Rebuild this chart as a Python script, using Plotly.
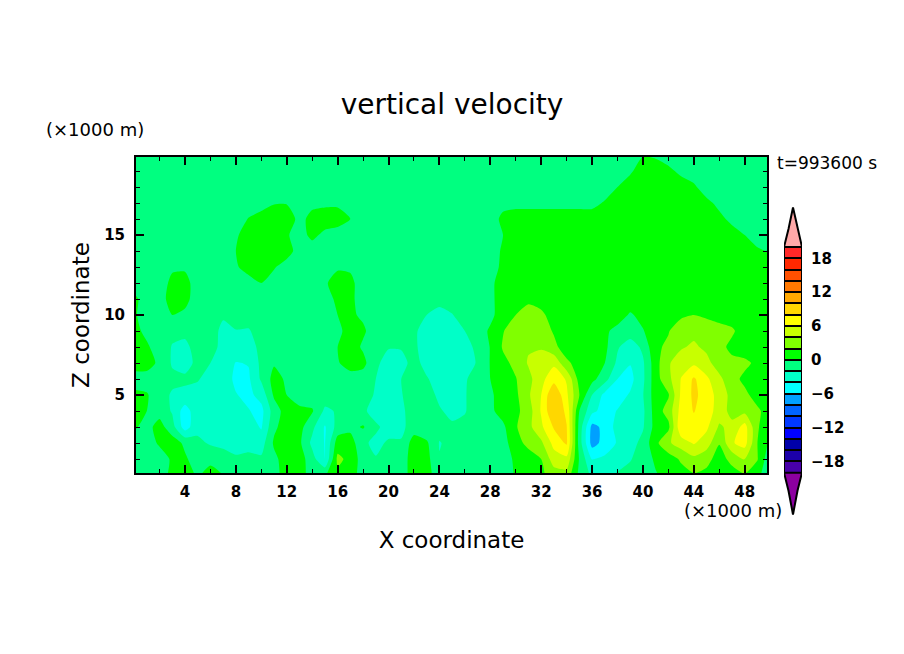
import numpy as np
import plotly.graph_objects as go

# x nodes (x1000 m), one per kilometre
x_km = list(range(0, 51))
z_km = list(range(20, -1, -1))

# vertical velocity, top row first (z = 20 ... 0)
w_z20 = [-1,-1,-1,-1,-1,-1,-1,-1,-1,-1, -1,-1,-1,-1,-1,-1,-1,-1,-1,-1, -1,-1,-1,-1,-1,-1,-1,-1,-1,-1, -1,-1,-1,-1,-1,-1,-1,-1,-1,-1, -0.1,-0.3,-1,-1,-1,-1,-1,-1,-1,-1, -1]
w_z19 = [-1,-1,-1,-1,-1,-1,-1,-1,-1,-1, -1,-1,-1,-1,-1,-1,-1,-1,-1,-1, -1,-1,-1,-1,-1,-1,-1,-1,-1,-1, -1,-1,-1,-1,-1,-1,-1,-1,-1,-0.3, 1,1,0.5,-0.5,-1,-1,-1,-1,-1,-1, -1]
w_z18 = [-1,-1,-1,-1,-1,-1,-1,-1,-1,-1, -1,-1,-1,-1,-1,-1,-1,-1,-1,-1, -1,-1,-1,-1,-1,-1,-1,-1,-1,-1, -1,-1,-1,-1,-1,-1,-1,-1,0,1, 1,1,1,1,0.3,-1,-1,-1,-1,-1, -1]
w_z17 = [-1,-1,-1,-1,-1,-1,-1,-1,-1,-1, -1,-0.1,-0.1,-0.1,-0.4,-0.4,-0.4,-1,-1,-1, -1,-1,-1,-1,-1,-1,-1,-1,-1,-0.6, -0.6,-0.6,-0.6,-0.6,-0.6,-0.6,-0.6,0.2,1,1, 1,1,1,1,1,0.5,-0.5,-1,-1,-1, -1]
w_z16 = [-1,-1,-1,-1,-1,-1,-1,-1,-1,0.1, 1,1,1,-0.5,0.5,1,1,0,-1,-1, -1,-1,-1,-1,-1,-1,-1,-1,-1,0.5, 1,1,1,1,1,1,1,1,1,1, 1,1,1,1,1,1,0.5,-0.5,-1,-1, -1]
w_z15 = [-1,-1,-1,-1,-1,-1,-1,-1,-0.3,1, 1,1,0.2,-0.8,0.5,-0.5,-1,-1,-1,-1, -1,-1,-1,-1,-1,-1,-1,-1,-1,0, 1,1,1,1,1,1,1,1,1,1, 1,1,1,1,1,1,1,0.8,0,-1, -1]
w_z14 = [-1,-1,-1,-1,-1,-1,-1,-1,0,1, 1,1,1,-1,-1,-1,-1,-1,-1,-1, -1,-1,-1,-1,-1,-1,-1,-1,-1,0.3, 1,1,1,1,1,1,1,1,1,1, 1,1,1,1,1,1,1,1,1,0.3, -0.2]
w_z13 = [-1,-1,-1,-0.3,-0.3,-1,-1,-1,-0.3,1, 1,0.2,-1,-1,-1,-1,-0.3,-0.3,-1,-1, -1,-1,-1,-1,-1,-1,-1,-1,-1,0.5, 1,1,1,1,1,1,1,1,1,1, 1,1,1,1,1,1,1,1,1,1, 1]
w_z12 = [-1,-1,-1,0.5,0.7,-1,-1,-1,-1,-1, 0,-1,-1,-1,-1,-0.3,1,0.5,-1,-1, -1,-1,-1,-1,-1,-1,-1,-1,-0.5,1, 1,1,1,1,1,1,1,1,1,1, 1,1,1,1,1,1,1,1,1,1, 1]
w_z11 = [0.5,-1,-1,1,0.6,-1,-1,-1,-1,-1, -1,-1,-1,-1,-1,-1,0.5,0.5,-1,-1, -1,-1,-1,-1,-1.6,-1,-1,-1,-0.5,1, 1,1.5,1,1,1,1,1,1,1,1, 1,1,1,1,1,1,1,1,1,1, 1]
w_z10 = [0.3,-1,-1,0,-0.4,-1,-1,-1.7,-1,-1, -1,-1,-1,-1,-1,-1,0,0.3,-0.3,-1, -1,-1,-1,-2,-2.4,-2.1,-1,-1,-0.5,1, 2,3,2.5,1,1,1,1,1,0.8,-0.2, 0.5,1,1,1.7,2,1.7,1,1,1,1, 1]
w_z9 = [0.6,-0.5,-1,-1.6,-1.7,-1,-1,-2.6,-2.1,-2.2, -1,-1,-1,-1,-1,-1,-0.6,1,0.3,-1, -1,-1,-1.8,-2.5,-2.6,-2.5,-2,-1,0.3,1.9, 3,3,3,1.8,1,1,1,0.3,-0.5,-1, -0.1,1,1.9,3,3.5,3,3,2.3,1,1, 1]
w_z8 = [1,0.3,-1,-2.1,-2.3,-1.5,-1.5,-2.4,-2.6,-2.6, -1.6,-1,-1,-1,-1,-1,0,1,-0.3,-1, -1.9,-1.9,-1.8,-2.5,-2.6,-2.6,-2.3,-1.8,0.1,2.2, 3,3.8,3.8,2.5,1,1,1,0.5,-1.8,-3, -1.6,1.7,2.3,3.8,4.3,3.6,2.6,1.5,1,1.5, 1]
w_z7 = [1,1,-0.5,-2.2,-2.6,-1.6,-2,-2.8,-4.1,-3.9, -1.5,-0.2,-0.4,-1,-1,-1,-0.2,1,0.6,-1.7, -2.6,-2.4,-1.6,-2.4,-3,-3.7,-3,-1.8,0.1,1.5, 2.5,4.2,5,5.6,2.4,1.2,1,0,-2.4,-3.9, -2.3,1.2,3.8,5,5.6,4.6,3,2.5,2.4,1.6, 1]
w_z6 = [-1,-1,-1,-1.6,-1.7,-1.9,-2.5,-3,-4.4,-4.3, -1.7,0.7,-0.3,-1,-1,-1,-1,-1,-1,-2, -2.7,-2,-1.2,-1.9,-2.5,-3,-2.2,-1.2,0,1.2, 1.9,3.4,5.4,7.3,5.8,1.2,0.6,-1.2,-4,-4.6, -2.4,1.2,3.4,6.1,8.3,6.4,4.5,2.6,1.6,1, 1]
w_z5 = [0.5,0.2,-1.3,-2.2,-2.4,-2.5,-2.8,-3,-3.9,-4.5, -3.3,0.3,0,-1,-1,-1,-1,-1,-1.6,-2.1, -2.9,-2.1,-1.2,-1.2,-2.4,-2.7,-2.1,-1.3,-0.3,0.8, 1.6,3.7,6,10,6.4,2,-2,-4.6,-4.8,-3.8, -2.1,1.1,1.8,6.4,8.4,7.2,5.1,3.4,2.4,1.3, 1]
w_z4 = [1,0,-0.8,-2.2,-5,-2.6,-2.4,-2.7,-2.9,-3.9, -4.6,-1,0.9,0.5,0.2,-2.4,-1.8,-1,-1.7,-2.7, -2.9,-2.3,-1.3,-1,-1.8,-2.5,-2.1,-1.2,-0.4,0.8, 1.5,3,6.2,10,7.5,0,-3.5,-4.8,-3.9,-3, -2.4,1,2.8,6.8,8.1,7,5.1,3.3,3.5,2.3, 1.2]
w_z3 = [0.3,-0.7,0.8,-1.2,-5,-2.5,-2,-2.3,-2.5,-3, -4.2,-0.4,1,0.7,-1.5,-4.2,-1.2,-0.6,0.2,-1.7, -2.6,-2.5,-1,-1.5,-1.4,-1.7,-1.6,-1.2,-1,-0.4, 1.8,3.4,5.6,8.2,8.1,-0.8,-6.6,-5.5,-3.2,-2.9, -2.2,0.8,1.5,7.7,7.3,6.4,3.7,4.6,6.8,2.2, 0.6]
w_z2 = [-1,-1,0.3,1,-0.4,-1.6,-2.2,-2.6,-2.8,-2.8, -2.9,0.3,1,0.4,-2.5,-4.1,1,1,-1.7,-2.4, -1.8,-1.8,1,0.3,-2.1,-1.5,-1.2,-1,-1,-0.8, 1.2,2.6,3.6,6.7,8.3,-1,-6.8,-5.3,-3.8,-2.8, -1.4,1.5,3.7,5,6.2,5,2.1,5.8,6.8,2, -0.5]
w_z1 = [-1,-1,-1,0.3,0.3,-1,-0.7,-0.9,-1.7,-1.4, -1.7,-0.5,1,1,-1.2,-4,2.5,1.4,-1,-1.9, -1,-1,1,0.7,-1.9,-1,-1,-1,-1,-1, 0.4,1,2,5,5.5,-0.2,-4.1,-3.6,-2.8,-2.1, -1.3,0.4,1,2.3,3.5,2.6,1.2,2.6,4.1,2.1, -1.6]
w_z0 = [-1,-1,-1,0.6,1,-0.3,1,0,-1,-1, -1,-0.8,1,1,-1,-0.2,1.5,1,-1,-1, -1,-1,1,0.7,-1,-1,-1,-1,-1,-1, 0.2,1,1.6,3,3.2,-0.5,-2.4,-2.6,-1.8,-1.5, -1,-0.2,0.8,1.2,1.8,1.5,1,1.2,1.8,1.1, -3]

w_rows = np.array([w_z20, w_z19, w_z18, w_z17, w_z16, w_z15, w_z14, w_z13, w_z12, w_z11, w_z10,
                   w_z9, w_z8, w_z7, w_z6, w_z5, w_z4, w_z3, w_z2, w_z1, w_z0])

# one colour per 2-unit band, -20 to 20
band_colors = ["#4800a8", "#1c00a8", "#0000a8", "#0000ff", "#0038ff", "#0064ff", "#00a0ff",
               "#00ffff", "#00ffc8", "#00ff80", "#00ff00", "#80ff00", "#c8ff00", "#ffff00",
               "#ffd700", "#ffa800", "#ff7800", "#ff5000", "#ff2800", "#ff2828"]
band_lows = list(range(-20, 20, 2))
bar_ticks = [-18, -12, -6, 0, 6, 12, 18]

scale = []
for i, c in enumerate(band_colors):
    scale.append([i / len(band_colors), c])
    scale.append([(i + 1) / len(band_colors), c])

# the page has an 8 px body margin, so the figure is 8 px smaller each side
PAD = 8
W, H = 904 - 2 * PAD, 654 - 2 * PAD


def fx(px):
    return (px - PAD) / W


def fy(py):
    return 1 - (py - PAD) / H


fig = go.Figure()
fig.add_trace(go.Contour(x=x_km, y=z_km[::-1], z=w_rows[::-1], colorscale=scale, zmin=-20, zmax=20,
                         autocontour=False, showscale=False,
                         contours=dict(start=-20, end=20, size=2, coloring="fill", showlines=False),
                         line=dict(width=0, smoothing=0.6)))

# hand made colour bar with the two pointed ends
fig.add_trace(go.Bar(x=[0.5] * len(band_lows), y=[2] * len(band_lows), base=band_lows, width=1,
                     marker=dict(color=band_colors, line=dict(color="black", width=2)),
                     xaxis="x2", yaxis="y2", showlegend=False, hoverinfo="skip"))
fig.add_trace(go.Scatter(x=[0, 0.25, 0.5, 0.75, 1, 0], y=[20, 23.2, 27, 23.2, 20, 20], mode="lines",
                         fill="toself", fillcolor="#ffa8a8", line=dict(color="black", width=2),
                         xaxis="x2", yaxis="y2", showlegend=False, hoverinfo="skip"))
fig.add_trace(go.Scatter(x=[0, 0.25, 0.5, 0.75, 1, 0], y=[-20, -23.2, -27.4, -23.2, -20, -20], mode="lines",
                         fill="toself", fillcolor="#8c00a0", line=dict(color="black", width=2),
                         xaxis="x2", yaxis="y2", showlegend=False, hoverinfo="skip"))

axis_font = dict(family="DejaVu Sans", size=15, color="black", weight="bold")
title_font = dict(family="DejaVu Sans", size=23, color="black")
note_font = dict(family="DejaVu Sans", size=17, color="black")

fig.update_layout(
    width=W, height=H, margin=dict(l=0, r=0, t=0, b=0), autosize=False,
    paper_bgcolor="white", plot_bgcolor="white", showlegend=False, bargap=0,
    title=dict(text="vertical velocity", x=fx(452), y=fy(104), xanchor="center", yanchor="middle",
               font=dict(family="DejaVu Sans", size=28, color="black")),
    xaxis=dict(domain=[fx(136), fx(767)], range=[0.15, 49.75], tick0=0, dtick=4, ticks="inside", ticklen=8,
               tickwidth=2, tickcolor="black", linecolor="black", linewidth=2, mirror="ticks",
               showgrid=False, zeroline=False, tickfont=axis_font, ticklabelstandoff=4,
               minor=dict(ticks="inside", ticklen=4, tick0=0, dtick=2, tickwidth=1, tickcolor="black", showgrid=False),
               title=dict(text="X coordinate", font=title_font, standoff=32)),
    yaxis=dict(domain=[fy(473), fy(157)], range=[0.125, 19.875], tick0=0, dtick=5, ticks="inside", ticklen=8,
               tickwidth=2, tickcolor="black", linecolor="black", linewidth=2, mirror="ticks",
               showgrid=False, zeroline=False, tickfont=axis_font, ticklabelstandoff=6,
               minor=dict(ticks="inside", ticklen=4, tick0=0, dtick=1, tickwidth=1, tickcolor="black", showgrid=False),
               title=dict(text="Z coordinate", font=title_font, standoff=8)),
    xaxis2=dict(domain=[fx(784), fx(802)], range=[0, 1], visible=False, anchor="y2"),
    yaxis2=dict(domain=[fy(515), fy(207)], range=[-27.5, 27.1], anchor="x2", side="right",
                tickvals=bar_ticks, ticks="", showgrid=False, zeroline=False, showline=False,
                tickfont=axis_font, ticklabelstandoff=8),
    annotations=[
        dict(text="(×1000 m)", x=fx(95), y=fy(129), xref="paper", yref="paper", showarrow=False,
             xanchor="center", yanchor="middle", font=dict(family="DejaVu Sans", size=18, color="black")),
        dict(text="(×1000 m)", x=fx(733), y=fy(511), xref="paper", yref="paper", showarrow=False,
             xanchor="center", yanchor="middle", font=dict(family="DejaVu Sans", size=18, color="black")),
        dict(text="t=993600 s", x=fx(827), y=fy(163), xref="paper", yref="paper", showarrow=False,
             xanchor="center", yanchor="middle", font=note_font),
    ],
)

fig.write_html("out.html")
